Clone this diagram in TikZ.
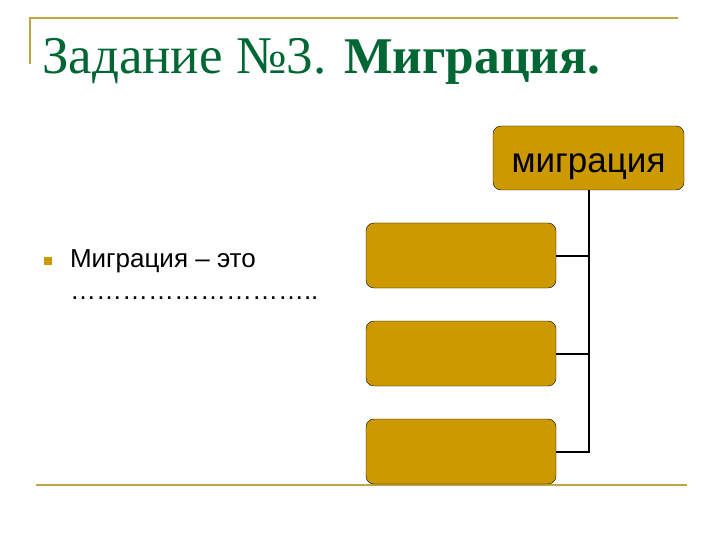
\documentclass[tikz,border=0pt]{standalone}
\usepackage{fontspec}
\setmainfont{Liberation Serif}
\setsansfont{Liberation Sans}
\usepackage{xcolor}
\usepackage{tikz}
\usetikzlibrary{positioning}

\definecolor{gold}{HTML}{CC9900}
\definecolor{titlegreen}{HTML}{006633}
\definecolor{rulegold}{HTML}{C4A546}

\begin{document}
\begin{tikzpicture}[x=1pt,y=-1pt]
    \tikzstyle{every node}=[inner sep=0pt,outer sep=0pt]
    \tikzstyle{gbox}=[draw=black,fill=gold,rounded corners=8pt,minimum width=190pt,minimum height=65pt,font=\sffamily\fontsize{35}{38}\selectfont]
    \tikzstyle{link}=[draw=black,line width=2pt]
    \tikzstyle{rule}=[draw=rulegold,line width=2.2pt]

    \useasboundingbox (0,0) rectangle (720,540) ;

    \draw[rule] (30,64) -- (30,18) -- (678,18) ;
    \draw[rule] (36,485) -- (687,485) ;

    \node[anchor=base west,text=titlegreen,font=\fontsize{53}{60}\selectfont] (title) at (42,74)
      {Задание №3. {\fontsize{51.5}{60}\selectfont\bfseries Миграция.}} ;

    \node[gbox,minimum width=191pt,minimum height=64pt,text height=30pt,text depth=0pt] (mig) at (588.5,158) {миграция} ;
    \node[gbox] (kind1) at (461,255.5) {} ;
    \node[gbox,below=33pt of kind1] (kind2) {} ;
    \node[gbox,below=33pt of kind2] (kind3) {} ;

    \draw[link] (mig.south) |- (kind3.east) ;
    \draw[link] (kind1.east) -- (kind1.east -| mig.south) ;
    \draw[link] (kind2.east) -- (kind2.east -| mig.south) ;

    \node[fill=gold,minimum size=8pt] (bullet) at (48,261) {} ;
    \node[anchor=base west,font=\sffamily\fontsize{26}{30}\selectfont] (def) at (70,267) {Миграция – это} ;
    \node[anchor=base west,font=\sffamily\fontsize{26}{30}\selectfont] (dots) at (70,299) {\dots\dots\dots\dots\dots\dots\dots\dots\dots..} ;

  \end{tikzpicture}
\end{document}
